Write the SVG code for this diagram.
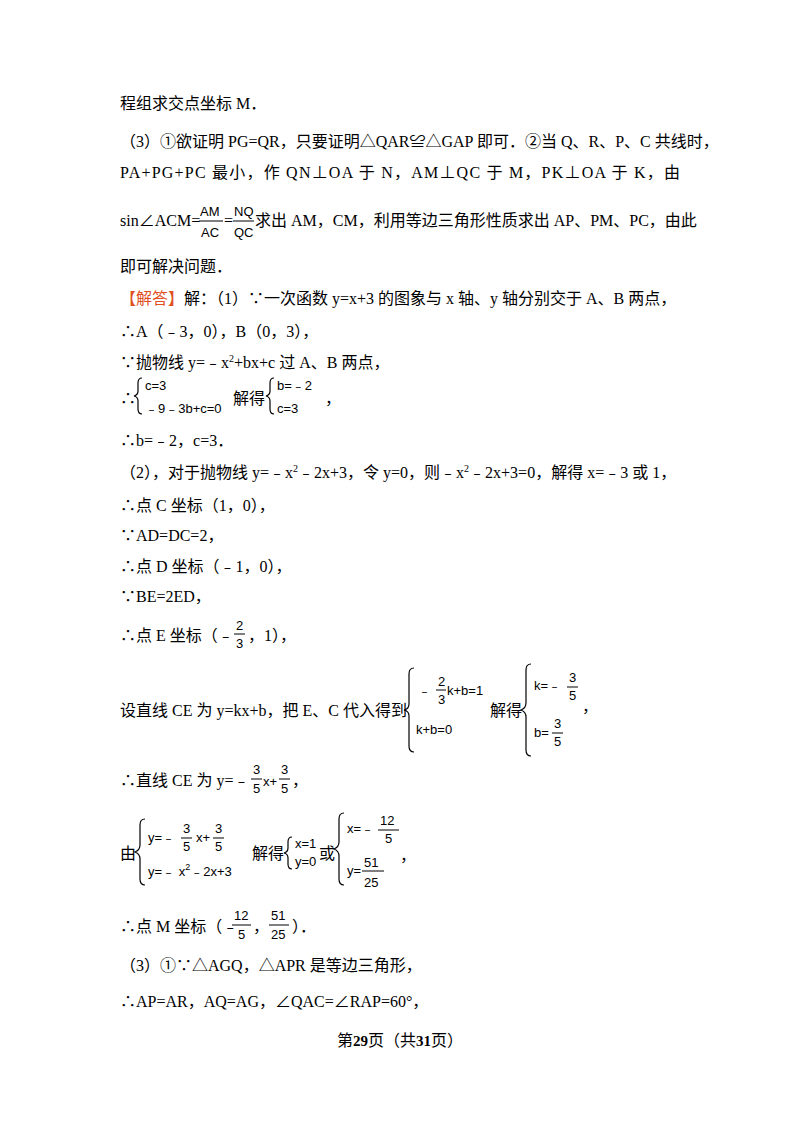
<svg xmlns="http://www.w3.org/2000/svg" width="800" height="1132" viewBox="0 0 800 1132">
<style>
text{font-family:"Liberation Serif","Noto Sans CJK SC",serif;font-size:16px;fill:#000}
.m{font-family:"Liberation Sans","Noto Sans CJK SC",sans-serif;font-size:13px}
line{stroke:#000;stroke-width:1}
path{fill:none;stroke:#000;stroke-width:1.2}
</style>
<rect width="800" height="1132" fill="#fff"/>
<g id="text">
<text x="120" y="109">程组求交点坐标 M．</text>
<text x="120" y="147">（3）①欲证明 PG=QR，只要证明△QAR≌△GAP 即可．②当 Q、R、P、C 共线时，</text>
<text x="120" y="178" textLength="560" lengthAdjust="spacing">PA+PG+PC 最小，作 QN⊥OA 于 N，AM⊥QC 于 M，PK⊥OA 于 K，由</text>
<text x="120" y="226">sin∠ACM=</text>
<text class="m" x="200" y="216">AM</text><line x1="199" y1="221" x2="223" y2="221"/><text class="m" x="201" y="237">AC</text>
<text x="224" y="226">=</text>
<text class="m" x="234" y="216">NQ</text><line x1="233" y1="221" x2="254" y2="221"/><text class="m" x="234" y="237">QC</text>
<text x="255" y="226">求出 AM，CM，利用等边三角形性质求出 AP、PM、PC，由此</text>
<text x="120" y="272">即可解决问题．</text>
<text x="120" y="304"><tspan fill="#e0501e">【解答】</tspan>解：（1）∵一次函数 y=x+3 的图象与 x 轴、y 轴分别交于 A、B 两点，</text>
<text x="120" y="337">∴A（﹣3，0），B（0，3），</text>
<text x="120" y="368">∵抛物线 y=﹣x<tspan font-size="10" dy="-6">2</tspan><tspan dy="6">+bx+c 过 A、B 两点，</tspan></text>
<text x="120" y="404">∴</text>
<path d="M142,378 q-4,0 -4,5 v8 q0,4 -4,5 q4,1 4,5 v8 q0,5 4,5"/>
<text class="m" x="145" y="390">c=3</text>
<text class="m" x="145" y="413">﹣9﹣3b+c=0</text>
<text x="233" y="404">解得</text>
<path d="M274,378 q-4,0 -4,5 v8 q0,4 -4,5 q4,1 4,5 v8 q0,5 4,5"/>
<text class="m" x="277" y="390">b=﹣2</text>
<text class="m" x="277" y="413">c=3</text>
<text x="325" y="404">，</text>
<text x="120" y="446">∴b=﹣2，c=3．</text>
<text x="120" y="478">（2），对于抛物线 y=﹣x<tspan font-size="10" dy="-6">2</tspan><tspan dy="6">﹣2x+3，令 y=0，则﹣x</tspan><tspan font-size="10" dy="-6">2</tspan><tspan dy="6">﹣2x+3=0，解得 x=﹣3 或 1，</tspan></text>
<text x="120" y="511">∴点 C 坐标（1，0），</text>
<text x="120" y="541">∵AD=DC=2，</text>
<text x="120" y="572">∴点 D 坐标（﹣1，0），</text>
<text x="120" y="602">∵BE=2ED，</text>
<text x="120" y="641">∴点 E 坐标（﹣</text>
<text class="m" x="236" y="630">2</text><line x1="234" y1="634" x2="245" y2="634"/><text class="m" x="236" y="648">3</text>
<text x="248" y="641">，1），</text>
<text x="120" y="716">设直线 CE 为 y=kx+b，把 E、C 代入得到</text>
<path d="M414,668 q-5,0 -5,6 v30 q0,5 -5,6 q5,1 5,6 v30 q0,6 5,6"/>
<text class="m" x="418" y="695">﹣</text>
<text class="m" x="438" y="686">2</text><line x1="436" y1="690" x2="446" y2="690"/><text class="m" x="438" y="704">3</text>
<text class="m" x="447" y="695">k+b=1</text>
<text class="m" x="416" y="734">k+b=0</text>
<text x="490" y="716">解得</text>
<path d="M531,664 q-5,0 -5,6 v33 q0,5 -5,7 q5,2 5,7 v33 q0,6 5,6"/>
<text class="m" x="534" y="690">k=﹣</text>
<text class="m" x="569" y="682">3</text><line x1="567" y1="687" x2="578" y2="687"/><text class="m" x="569" y="700">5</text>
<text class="m" x="534" y="737">b=</text>
<text class="m" x="554" y="728">3</text><line x1="552" y1="733" x2="563" y2="733"/><text class="m" x="554" y="746">5</text>
<text x="582" y="712">，</text>
<text x="120" y="786">∴直线 CE 为 y=﹣</text>
<text class="m" x="253" y="774">3</text><line x1="251" y1="779" x2="262" y2="779"/><text class="m" x="253" y="793">5</text>
<text class="m" x="263" y="786">x+</text>
<text class="m" x="281" y="774">3</text><line x1="279" y1="779" x2="290" y2="779"/><text class="m" x="281" y="793">5</text>
<text x="292" y="786">，</text>
<text x="120" y="859">由</text>
<path d="M145,819 q-5,0 -5,6 v20 q0,5 -5,7 q5,2 5,7 v20 q0,6 5,6"/>
<text class="m" x="148" y="842">y=﹣</text>
<text class="m" x="183" y="833">3</text><line x1="181" y1="838" x2="192" y2="838"/><text class="m" x="183" y="851">5</text>
<text class="m" x="196" y="842">x+</text>
<text class="m" x="215" y="833">3</text><line x1="213" y1="838" x2="224" y2="838"/><text class="m" x="215" y="851">5</text>
<text class="m" x="148" y="876">y=﹣ x<tspan font-size="9" dy="-6">2</tspan><tspan dy="6">﹣2x+3</tspan></text>
<text x="252" y="859">解得</text>
<path d="M292,837 q-4,0 -4,5 v6 q0,4 -4,5 q4,1 4,5 v6 q0,5 4,5"/>
<text class="m" x="295" y="848">x=1</text>
<text class="m" x="295" y="866">y=0</text>
<text x="319" y="859">或</text>
<path d="M344,813 q-5,0 -5,6 v23 q0,5 -5,7 q5,2 5,7 v23 q0,6 5,6"/>
<text class="m" x="347" y="833">x=﹣</text>
<text class="m" x="380" y="825">12</text><line x1="378" y1="830" x2="399" y2="830"/><text class="m" x="385" y="843">5</text>
<text class="m" x="347" y="875">y=</text>
<text class="m" x="364" y="867">51</text><line x1="362" y1="871" x2="384" y2="871"/><text class="m" x="364" y="887">25</text>
<text x="400" y="861">，</text>
<text x="120" y="932">∴点 M 坐标（﹣</text>
<text class="m" x="234" y="920">12</text><line x1="232" y1="925" x2="251" y2="925"/><text class="m" x="238" y="939">5</text>
<text x="253" y="932">，</text>
<text class="m" x="271" y="920">51</text><line x1="269" y1="925" x2="289" y2="925"/><text class="m" x="271" y="939">25</text>
<text x="292" y="932">）．</text>
<text x="120" y="971">（3）①∵△AGQ，△APR 是等边三角形，</text>
<text x="120" y="1007">∴AP=AR，AQ=AG，∠QAC=∠RAP=60°，</text>
<text x="400" y="1046" text-anchor="middle" font-size="13">第<tspan font-weight="bold" font-size="15">29</tspan>页（共<tspan font-weight="bold" font-size="15">31</tspan>页）</text>
</g>
</svg>
